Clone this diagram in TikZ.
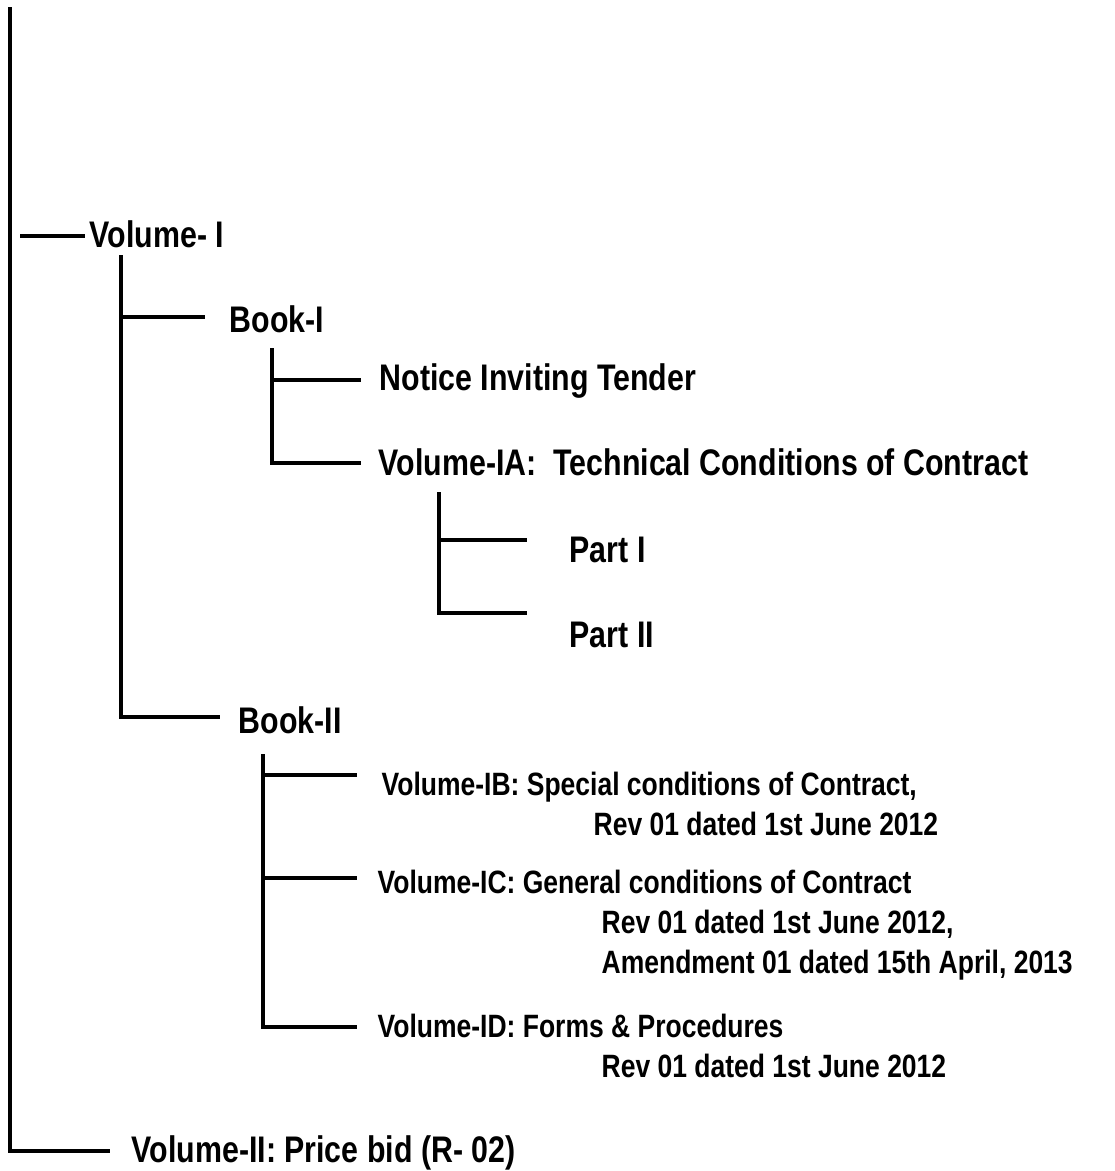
\documentclass[tikz,border=0pt]{standalone}
\usepackage{fontspec}
\setmainfont{Liberation Sans}[FakeStretch=0.82]
\usepackage{tikz}

\begin{document}
\begin{tikzpicture}[x=1pt, y=-1pt, line width=3.4pt,
    lbl/.style={anchor=base west, inner sep=0pt, font=\bfseries\fontsize{37}{44}\selectfont},
    sublbl/.style={lbl, font=\bfseries\fontsize{32.3}{40}\selectfont}]
    \useasboundingbox (0,0) rectangle (1115,1171);

    % main stem
    \coordinate (r0) at (10,7);
    \coordinate (r1) at (110,1151);
    \draw (r0) |- (r1);
    \node[lbl] (vol2) at (130,1162) {Volume-II: Price bid (R- 02)};

    \coordinate (v1l) at (20,236);
    \coordinate (v1r) at (85,236);
    \draw (v1l) -- (v1r);
    \node[lbl] (vol1) at (88,247) {Volume- I};

    % Volume- I
    \coordinate (s1) at (121,255);
    \coordinate (b1r) at (205,317);
    \coordinate (b2r) at (220,717);
    \draw (s1) |- (b2r);
    \draw (s1 |- b1r) -- (b1r);
    \node[lbl] (book1) at (228,332) {Book-I};
    \node[lbl] (book2) at (237,733) {Book-II};

    % Book-I
    \coordinate (s2) at (272,348);
    \coordinate (nitr) at (361,380);
    \coordinate (iar) at (361,463);
    \draw (s2) |- (iar);
    \draw (s2 |- nitr) -- (nitr);
    \node[lbl] (nit) at (378,390) {Notice Inviting Tender};
    \node[lbl] (volIA) at (377,475) {Volume-IA:\ \ Technical Conditions of Contract};

    % Volume-IA
    \coordinate (s3) at (439,492);
    \coordinate (p1r) at (527,540);
    \coordinate (p2r) at (527,613);
    \draw (s3) |- (p2r);
    \draw (s3 |- p1r) -- (p1r);
    \node[lbl] (part1) at (568,562) {Part I};
    \node[lbl] (part2) at (568,647) {Part II};

    % Book-II
    \coordinate (s4) at (263,754);
    \coordinate (ibr) at (357,775);
    \coordinate (icr) at (357,878);
    \coordinate (idr) at (357,1027);
    \draw (s4) |- (idr);
    \draw (s4 |- ibr) -- (ibr);
    \draw (s4 |- icr) -- (icr);

    \node[sublbl] (volIB) at (380,795) {Volume-IB: Special conditions of Contract,};
    \node[sublbl] (volIBrev) at (592,835) {Rev 01 dated 1st June 2012};
    \node[sublbl] (volIC) at (376,893) {Volume-IC: General conditions of Contract};
    \node[sublbl] (volICrev) at (600,933) {Rev 01 dated 1st June 2012,};
    \node[sublbl] (volICamd) at (600,973) {Amendment 01 dated 15th April, 2013};
    \node[sublbl] (volID) at (376,1037) {Volume-ID: Forms \& Procedures};
    \node[sublbl] (volIDrev) at (600,1077) {Rev 01 dated 1st June 2012};
\end{tikzpicture}
\end{document}
